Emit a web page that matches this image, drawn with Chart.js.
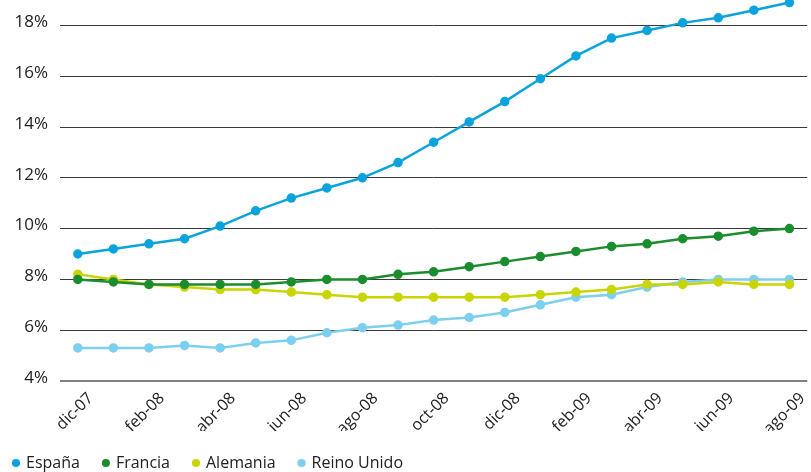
<!DOCTYPE html>
<html><head><meta charset="utf-8">
<script src="https://cdn.jsdelivr.net/npm/chart.js@4"></script>
<style>html,body{margin:0;padding:0;background:#fff}#wrap{width:811px;height:472px;position:relative}</style>
</head><body><div id="wrap"><canvas id="c"></canvas></div>
<script>
const categories = ["dic-07","ene-08","feb-08","mar-08","abr-08","may-08","jun-08","jul-08","ago-08","sep-08","oct-08","nov-08","dic-08","ene-09","feb-09","mar-09","abr-09","may-09","jun-09","jul-09","ago-09"];
const espana = [9.0,9.2,9.4,9.6,10.1,10.7,11.2,11.6,12.0,12.6,13.4,14.2,15.0,15.9,16.8,17.5,17.8,18.1,18.3,18.6,18.9];
const francia = [8.0,7.9,7.8,7.8,7.8,7.8,7.9,8.0,8.0,8.2,8.3,8.5,8.7,8.9,9.1,9.3,9.4,9.6,9.7,9.9,10.0];
const alemania = [8.2,8.0,7.8,7.7,7.6,7.6,7.5,7.4,7.3,7.3,7.3,7.3,7.3,7.4,7.5,7.6,7.8,7.8,7.9,7.8,7.8];
const reinoUnido = [5.3,5.3,5.3,5.4,5.3,5.5,5.6,5.9,6.1,6.2,6.4,6.5,6.7,7.0,7.3,7.4,7.7,7.9,8.0,8.0,8.0];
const yTicks = [4,6,8,10,12,14,16,18];

const FONT = "'Open Sans', sans-serif";
function ds(label, data, color){
  return {label, data, borderColor: color, backgroundColor: color, pointBackgroundColor: color,
    pointBorderColor: color, borderWidth: 2.5, pointRadius: 3.5, pointHoverRadius: 3.5, tension: 0, clip: false};
}
const shiftLegend = {id: 'shiftLegend', afterLayout(chart){ if (chart.legend) { chart.legend.left -= 10; } }};
new Chart(document.getElementById('c'), {
  type: 'line',
  plugins: [shiftLegend],
  data: {labels: categories, datasets: [
    ds('España', espana, '#0aa3dc'),
    ds('Francia', francia, '#1b8d2f'),
    ds('Alemania', alemania, '#c9d500'),
    ds('Reino Unido', reinoUnido, '#7ccfef')
  ]},
  options: {
    responsive: true, maintainAspectRatio: false, animation: false,
    layout: {autoPadding: false, padding: {top: 0, right: 0, bottom: -9, left: 0}},
    plugins: {
      tooltip: {enabled: false},
      legend: {position: 'bottom', align: 'start',
        labels: {usePointStyle: true, pointStyle: 'circle', boxWidth: 4, boxHeight: 4, padding: 24,
          color: '#222', font: {family: FONT, size: 16}}}
    },
    scales: {
      x: {offset: true,
        afterFit: s => { s.height = 50; },
        grid: {display: false, drawTicks: false},
        border: {display: false},
        ticks: {autoSkip: false, minRotation: 45, maxRotation: 45, padding: 8, labelOffset: 13, color: '#222',
          font: {family: FONT, size: 16},
          callback: function(v, i){ return i % 2 === 0 ? categories[i] : ''; }}
      },
      y: {min: 4, max: 19,
        afterBuildTicks: s => { s.ticks = yTicks.map(v => ({value: v})); },
        afterFit: s => { s.width = 60; s.paddingTop = 0; s.paddingBottom = 0; },
        border: {display: false},
        grid: {drawTicks: false,
          color: c => c.tick && c.tick.value === 4 ? '#808080' : '#3a3a3a',
          lineWidth: c => c.tick && c.tick.value === 4 ? 2 : 1},
        ticks: {padding: 12, labelOffset: -3, color: '#222', font: {family: FONT, size: 17},
          callback: v => v + '%'}
      }
    }
  }
});
</script></body></html>
